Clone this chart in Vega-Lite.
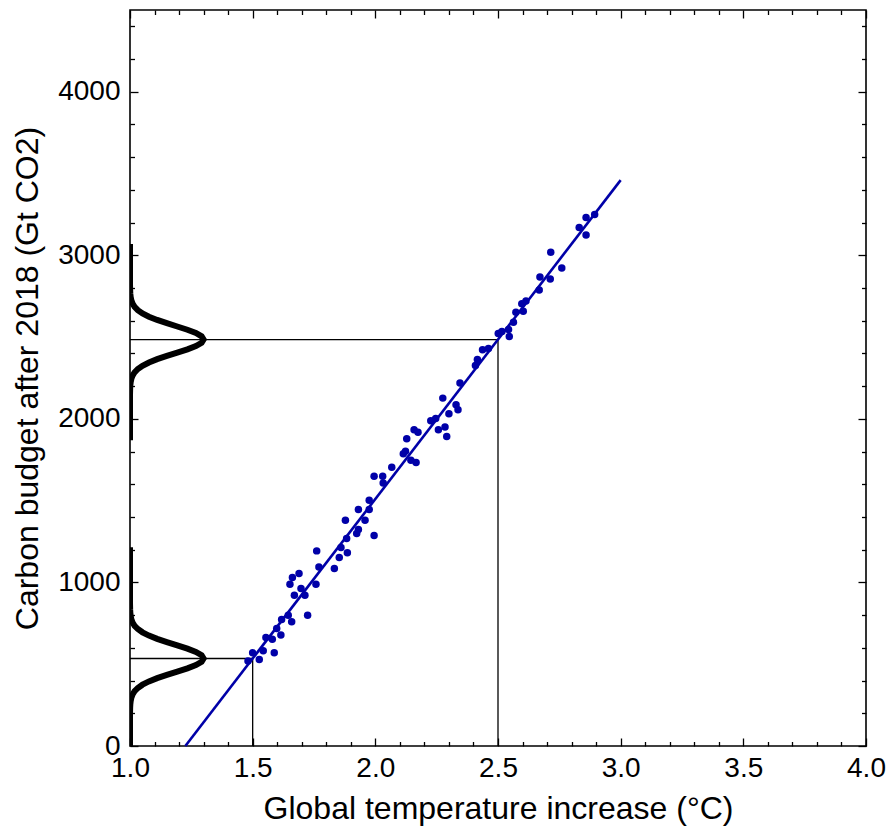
{
  "$schema": "https://vega.github.io/schema/vega-lite/v6.json",
  "width": 736,
  "height": 736,
  "autosize": {"type": "none"},
  "padding": {"left": 130, "top": 10, "right": 23, "bottom": 93},
  "background": "white",
  "config": {"view": {"stroke": "black", "strokeWidth": 1.6}},
  "datasets": {
    "gauss": [
      {"g": "low", "y": 0, "x": 1.0}, {"g": "low", "y": 195, "x": 1.0}, {"g": "low", "y": 235, "x": 1.0006}, {"g": "low", "y": 255, "x": 1.0013},
      {"g": "low", "y": 275, "x": 1.0028}, {"g": "low", "y": 295, "x": 1.0056}, {"g": "low", "y": 315, "x": 1.0105}, {"g": "low", "y": 335, "x": 1.0188},
      {"g": "low", "y": 355, "x": 1.0319}, {"g": "low", "y": 375, "x": 1.051}, {"g": "low", "y": 395, "x": 1.0773}, {"g": "low", "y": 415, "x": 1.1107},
      {"g": "low", "y": 435, "x": 1.1502}, {"g": "low", "y": 455, "x": 1.1927}, {"g": "low", "y": 475, "x": 1.2339}, {"g": "low", "y": 495, "x": 1.2686},
      {"g": "low", "y": 515, "x": 1.2918}, {"g": "low", "y": 535, "x": 1.3}, {"g": "low", "y": 555, "x": 1.2918}, {"g": "low", "y": 575, "x": 1.2686},
      {"g": "low", "y": 595, "x": 1.2339}, {"g": "low", "y": 615, "x": 1.1927}, {"g": "low", "y": 635, "x": 1.1502}, {"g": "low", "y": 655, "x": 1.1107},
      {"g": "low", "y": 675, "x": 1.0773}, {"g": "low", "y": 695, "x": 1.051}, {"g": "low", "y": 715, "x": 1.0319}, {"g": "low", "y": 735, "x": 1.0188},
      {"g": "low", "y": 755, "x": 1.0105}, {"g": "low", "y": 775, "x": 1.0056}, {"g": "low", "y": 795, "x": 1.0028}, {"g": "low", "y": 815, "x": 1.0013},
      {"g": "low", "y": 835, "x": 1.0006}, {"g": "low", "y": 875, "x": 1.0}, {"g": "low", "y": 1215, "x": 1.0},
      {"g": "high", "y": 1870, "x": 1.0}, {"g": "high", "y": 2145, "x": 1.0}, {"g": "high", "y": 2185, "x": 1.0006}, {"g": "high", "y": 2205, "x": 1.0013},
      {"g": "high", "y": 2225, "x": 1.0028}, {"g": "high", "y": 2245, "x": 1.0056}, {"g": "high", "y": 2265, "x": 1.0105}, {"g": "high", "y": 2285, "x": 1.0188},
      {"g": "high", "y": 2305, "x": 1.0319}, {"g": "high", "y": 2325, "x": 1.051}, {"g": "high", "y": 2345, "x": 1.0773}, {"g": "high", "y": 2365, "x": 1.1107},
      {"g": "high", "y": 2385, "x": 1.1502}, {"g": "high", "y": 2405, "x": 1.1927}, {"g": "high", "y": 2425, "x": 1.2339}, {"g": "high", "y": 2445, "x": 1.2686},
      {"g": "high", "y": 2465, "x": 1.2918}, {"g": "high", "y": 2485, "x": 1.3}, {"g": "high", "y": 2505, "x": 1.2918}, {"g": "high", "y": 2525, "x": 1.2686},
      {"g": "high", "y": 2545, "x": 1.2339}, {"g": "high", "y": 2565, "x": 1.1927}, {"g": "high", "y": 2585, "x": 1.1502}, {"g": "high", "y": 2605, "x": 1.1107},
      {"g": "high", "y": 2625, "x": 1.0773}, {"g": "high", "y": 2645, "x": 1.051}, {"g": "high", "y": 2665, "x": 1.0319}, {"g": "high", "y": 2685, "x": 1.0188},
      {"g": "high", "y": 2705, "x": 1.0105}, {"g": "high", "y": 2725, "x": 1.0056}, {"g": "high", "y": 2745, "x": 1.0028}, {"g": "high", "y": 2765, "x": 1.0013},
      {"g": "high", "y": 2785, "x": 1.0006}, {"g": "high", "y": 2825, "x": 1.0}, {"g": "high", "y": 3070, "x": 1.0}
    ],
    "vrules": [
      {"x": 1.5, "y": 0, "y2": 535},
      {"x": 2.5, "y": 0, "y2": 2485}
    ],
    "hrules": [
      {"x": 1.0, "x2": 1.5, "y": 535},
      {"x": 1.0, "x2": 2.5, "y": 2485}
    ],
    "fit": [
      {"x": 1.2256, "x2": 3.0, "y": 0, "y2": 3460}
    ],
    "pts": [
      {"t": 1.481, "c": 519}, {"t": 1.5, "c": 570}, {"t": 1.527, "c": 529}, {"t": 1.543, "c": 582}, {"t": 1.588, "c": 570},
      {"t": 1.554, "c": 664}, {"t": 1.58, "c": 652}, {"t": 1.615, "c": 678}, {"t": 1.598, "c": 719}, {"t": 1.618, "c": 774},
      {"t": 1.645, "c": 800}, {"t": 1.659, "c": 759}, {"t": 1.724, "c": 800}, {"t": 1.67, "c": 922}, {"t": 1.713, "c": 922},
      {"t": 1.697, "c": 963}, {"t": 1.652, "c": 989}, {"t": 1.662, "c": 1030}, {"t": 1.689, "c": 1055}, {"t": 1.758, "c": 989},
      {"t": 1.77, "c": 1095}, {"t": 1.833, "c": 1085}, {"t": 1.761, "c": 1193}, {"t": 1.853, "c": 1152}, {"t": 1.86, "c": 1213},
      {"t": 1.886, "c": 1181}, {"t": 1.883, "c": 1268}, {"t": 1.924, "c": 1299}, {"t": 1.931, "c": 1323}, {"t": 1.995, "c": 1287},
      {"t": 1.878, "c": 1380}, {"t": 1.958, "c": 1380}, {"t": 1.931, "c": 1446}, {"t": 1.975, "c": 1446}, {"t": 1.975, "c": 1502},
      {"t": 1.995, "c": 1649}, {"t": 2.03, "c": 1649}, {"t": 2.032, "c": 1608}, {"t": 2.067, "c": 1704}, {"t": 2.114, "c": 1787},
      {"t": 2.123, "c": 1802}, {"t": 2.145, "c": 1747}, {"t": 2.166, "c": 1734}, {"t": 2.128, "c": 1879}, {"t": 2.158, "c": 1934},
      {"t": 2.174, "c": 1919}, {"t": 2.226, "c": 1988}, {"t": 2.246, "c": 2003}, {"t": 2.257, "c": 1934}, {"t": 2.284, "c": 1950},
      {"t": 2.291, "c": 1893}, {"t": 2.275, "c": 2127}, {"t": 2.3, "c": 2032}, {"t": 2.329, "c": 2086}, {"t": 2.337, "c": 2056},
      {"t": 2.345, "c": 2220}, {"t": 2.408, "c": 2327}, {"t": 2.416, "c": 2363}, {"t": 2.437, "c": 2423}, {"t": 2.461, "c": 2431},
      {"t": 2.501, "c": 2522}, {"t": 2.516, "c": 2535}, {"t": 2.543, "c": 2547}, {"t": 2.546, "c": 2504}, {"t": 2.563, "c": 2591},
      {"t": 2.573, "c": 2652}, {"t": 2.603, "c": 2658}, {"t": 2.597, "c": 2704}, {"t": 2.614, "c": 2721}, {"t": 2.668, "c": 2788},
      {"t": 2.671, "c": 2868}, {"t": 2.713, "c": 2856}, {"t": 2.76, "c": 2923}, {"t": 2.715, "c": 3019}, {"t": 2.831, "c": 3170},
      {"t": 2.859, "c": 3125}, {"t": 2.859, "c": 3232}, {"t": 2.894, "c": 3249}
    ]
  },
  "resolve": {"axis": {"x": "independent", "y": "independent"}},
  "layer": [
    {
      "data": {"name": "gauss"},
      "mark": {"type": "line", "color": "black", "strokeWidth": 6, "clip": true},
      "encoding": {
        "x": {"field": "x", "type": "quantitative", "scale": {"domain": [1, 4], "nice": false, "zero": false},
          "axis": {"orient": "bottom", "values": [1, 1.5, 2, 2.5, 3, 3.5, 4], "format": ".1f", "ticks": false, "domain": false, "grid": false,
            "labelFont": "Liberation Sans", "labelFontSize": 28, "labelColor": "black", "labelPadding": 8, "labelFlush": false, "labelOverlap": false,
            "title": "Global temperature increase (°C)", "titleFont": "Liberation Sans", "titleFontSize": 32, "titleFontWeight": "normal", "titleColor": "black", "titlePadding": 11}},
        "y": {"field": "y", "type": "quantitative", "scale": {"domain": [0, 4500], "nice": false, "zero": false},
          "axis": {"orient": "left", "values": [0, 1000, 2000, 3000, 4000], "format": "d", "ticks": false, "domain": false, "grid": false,
            "labelFont": "Liberation Sans", "labelFontSize": 28, "labelColor": "black", "labelPadding": 10, "labelFlush": false, "labelOverlap": false,
            "title": "Carbon budget after 2018 (Gt CO2)", "titleFont": "Liberation Sans", "titleFontSize": 32, "titleFontWeight": "normal", "titleColor": "black", "titlePadding": 13}},
        "detail": {"field": "g"},
        "order": {"field": "y", "type": "quantitative"}
      }
    },
    {
      "data": {"name": "vrules"},
      "mark": {"type": "rule", "color": "black", "strokeWidth": 1.3},
      "encoding": {
        "x": {"field": "x", "type": "quantitative", "scale": {"domain": [1, 4], "nice": false, "zero": false},
          "axis": {"orient": "bottom", "values": [1, 1.5, 2, 2.5, 3, 3.5, 4], "labels": false, "domain": false, "grid": false, "tickSize": -8, "tickWidth": 1.3, "tickColor": "black", "title": null}},
        "y": {"field": "y", "type": "quantitative", "scale": {"domain": [0, 4500], "nice": false, "zero": false},
          "axis": {"orient": "left", "values": [0, 1000, 2000, 3000, 4000], "labels": false, "domain": false, "grid": false, "tickSize": -8, "tickWidth": 1.3, "tickColor": "black", "title": null}},
        "y2": {"field": "y2"}
      }
    },
    {
      "data": {"name": "hrules"},
      "mark": {"type": "rule", "color": "black", "strokeWidth": 1.3},
      "encoding": {
        "x": {"field": "x", "type": "quantitative", "scale": {"domain": [1, 4], "nice": false, "zero": false},
          "axis": {"orient": "bottom", "values": [1.1, 1.2, 1.3, 1.4, 1.6, 1.7, 1.8, 1.9, 2.1, 2.2, 2.3, 2.4, 2.6, 2.7, 2.8, 2.9, 3.1, 3.2, 3.3, 3.4, 3.6, 3.7, 3.8, 3.9], "labels": false, "domain": false, "grid": false, "tickSize": -4.5, "tickWidth": 1.3, "tickColor": "black", "title": null}},
        "x2": {"field": "x2"},
        "y": {"field": "y", "type": "quantitative", "scale": {"domain": [0, 4500], "nice": false, "zero": false},
          "axis": {"orient": "left", "values": [200, 400, 600, 800, 1200, 1400, 1600, 1800, 2200, 2400, 2600, 2800, 3200, 3400, 3600, 3800, 4200, 4400], "labels": false, "domain": false, "grid": false, "tickSize": -4.5, "tickWidth": 1.3, "tickColor": "black", "title": null}}
      }
    },
    {
      "data": {"name": "fit"},
      "mark": {"type": "rule", "color": "#0000a8", "strokeWidth": 2.6},
      "encoding": {
        "x": {"field": "x", "type": "quantitative", "scale": {"domain": [1, 4], "nice": false, "zero": false},
          "axis": {"orient": "top", "values": [1, 1.5, 2, 2.5, 3, 3.5, 4], "labels": false, "domain": false, "grid": false, "tickSize": -8, "tickWidth": 1.3, "tickColor": "black", "title": null}},
        "x2": {"field": "x2"},
        "y": {"field": "y", "type": "quantitative", "scale": {"domain": [0, 4500], "nice": false, "zero": false},
          "axis": {"orient": "right", "values": [0, 1000, 2000, 3000, 4000], "labels": false, "domain": false, "grid": false, "tickSize": -8, "tickWidth": 1.3, "tickColor": "black", "title": null}},
        "y2": {"field": "y2"}
      }
    },
    {
      "data": {"name": "pts"},
      "mark": {"type": "circle", "color": "#0000a8", "size": 56, "opacity": 1},
      "encoding": {
        "x": {"field": "t", "type": "quantitative", "scale": {"domain": [1, 4], "nice": false, "zero": false},
          "axis": {"orient": "top", "values": [1.1, 1.2, 1.3, 1.4, 1.6, 1.7, 1.8, 1.9, 2.1, 2.2, 2.3, 2.4, 2.6, 2.7, 2.8, 2.9, 3.1, 3.2, 3.3, 3.4, 3.6, 3.7, 3.8, 3.9], "labels": false, "domain": false, "grid": false, "tickSize": -4.5, "tickWidth": 1.3, "tickColor": "black", "title": null}},
        "y": {"field": "c", "type": "quantitative", "scale": {"domain": [0, 4500], "nice": false, "zero": false},
          "axis": {"orient": "right", "values": [200, 400, 600, 800, 1200, 1400, 1600, 1800, 2200, 2400, 2600, 2800, 3200, 3400, 3600, 3800, 4200, 4400], "labels": false, "domain": false, "grid": false, "tickSize": -4.5, "tickWidth": 1.3, "tickColor": "black", "title": null}}
      }
    }
  ]
}
